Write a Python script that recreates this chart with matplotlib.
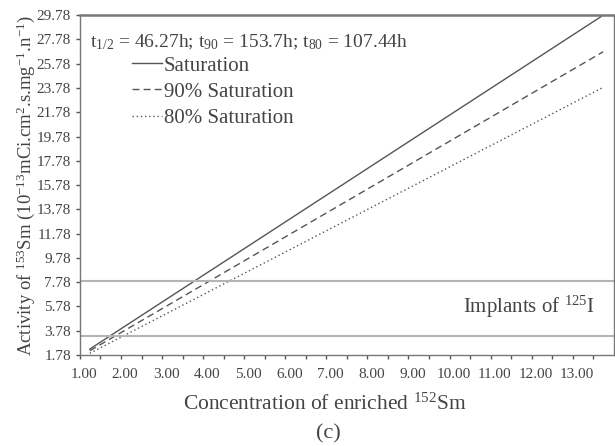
import matplotlib.pyplot as plt
import matplotlib.transforms as mtransforms

plt.rcParams['font.family'] = 'Liberation Serif'
plt.rcParams['mathtext.fontset'] = 'custom'
plt.rcParams['mathtext.rm'] = 'Liberation Serif'
plt.rcParams['mathtext.it'] = 'Liberation Serif'

# concentration of enriched 152Sm (line end points)
conc = [1.24, 13.74]
sat = [2.27, 29.77]
sat90 = [2.13, 26.76]
sat80 = [1.92, 23.83]

# 125I implants band
implant_low = 3.35
implant_high = 7.85

xticks = [1, 2, 3, 4, 5, 6, 7, 8, 9, 10, 11, 12, 13]
yticks = [1.78 + 2 * i for i in range(15)]

ink = '#555555'
fig = plt.figure(figsize=(6.15, 4.46), dpi=100)
ax = fig.add_axes([0.130, 0.204, 0.868, 0.762])

ax.plot(conc, sat, color=ink, lw=1.0, ls='-', label='Saturation')
ax.plot(conc, sat90, color=ink, lw=1.0, ls=(0, (5, 3)), label='90% Saturation')
ax.plot(conc, sat80, color=ink, lw=1.0, ls=(0, (1, 2)), label='80% Saturation')

ax.axhline(implant_high, color='#b4b4b4', lw=1.5)
ax.axhline(implant_low, color='#b4b4b4', lw=1.5)

ax.set_xlim(1, 14)
ax.set_ylim(1.78, 29.78)
ax.set_xticks(xticks)
ax.set_xticklabels(['%.2f' % v for v in xticks])
ax.set_xticks([v + 0.5 for v in xticks], minor=True)
ax.set_yticks(yticks)
ax.set_yticklabels(['%.2f' % v for v in yticks])

ax.tick_params(axis='both', colors=ink, labelcolor='#444444', labelsize=11,
               length=3, width=1, direction='out')
ax.tick_params(axis='x', which='minor', colors=ink, length=3, width=1)
ax.tick_params(axis='x', pad=6)
shift = mtransforms.ScaledTranslation(4 / 100, 0, fig.dpi_scale_trans)
for lab in ax.get_xticklabels():
    lab.set_transform(lab.get_transform() + shift)
for s in ax.spines.values():
    s.set_color('#777777')
    s.set_linewidth(1.0)
ax.spines['top'].set_linewidth(1.8)

ax.text(0.018, 0.921, r't$_{1/2}$ = 46.27h; t$_{90}$ = 153.7h; t$_{80}$ = 107.44h',
        transform=ax.transAxes, fontsize=14, color='#444444', va='center')
leg = ax.legend(loc='upper left', bbox_to_anchor=(0.098, 0.880), frameon=False,
                fontsize=15, handlelength=1.45, handletextpad=0.05,
                labelspacing=0.32, borderaxespad=0, borderpad=0)
for t in leg.get_texts():
    t.set_color('#444444')

ax.text(0.964, 0.141, r'Implants of $^{125}$I', transform=ax.transAxes,
        fontsize=15, color='#444444', ha='right', va='center')

ax.set_ylabel(r'Activity of $^{153}$Sm (10$^{-13}$mCi.cm$^{2}$.s.mg$^{-1}$.n$^{-1}$)',
              fontsize=13.5, color='#444444', labelpad=0)
fig.text(325 / 615, 1 - 404 / 446, r'Concentration of enriched $^{152}$Sm',
         fontsize=15.5, color='#444444', ha='center', va='center')
fig.text(328 / 615, 1 - 434 / 446, '(c)', fontsize=16, color='#444444',
         ha='center', va='center')

fig.savefig('out.png', dpi=100)
